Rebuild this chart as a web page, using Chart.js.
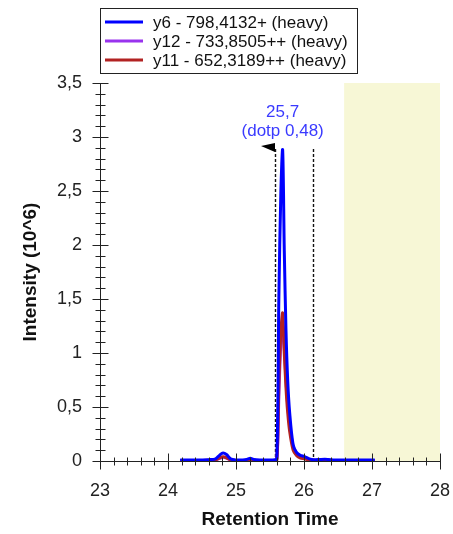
<!DOCTYPE html>
<html><head><meta charset="utf-8">
<script src="https://cdn.jsdelivr.net/npm/chart.js@4"></script>
<style>html,body{margin:0;padding:0;background:#fff}#wrap{width:453px;height:534px;position:relative}</style>
</head><body><div id="wrap"><canvas id="c" width="453" height="534"></canvas></div>
<script>
const times = [24.18,24.3,24.4,24.5,24.6,24.7,24.76,24.81,24.86,24.92,25.0,25.1,25.16,25.21,25.26,25.35,25.45,25.55,25.6,25.63,25.66,25.686,25.71,25.735,25.76,25.79,25.84,25.89,25.94,26.01,26.08,26.14,26.25,26.35,26.45,26.6,26.75,26.9,27.04];
const y6  = [0.01,0.01,0.01,0.01,0.012,0.02,0.055,0.075,0.06,0.02,0.01,0.01,0.015,0.025,0.015,0.01,0.01,0.01,0.02,1.5,2.5,2.88,1.95,1.21,0.75,0.44,0.15,0.08,0.055,0.04,0.02,0.012,0.015,0.015,0.01,0.01,0.01,0.01,0.01];
const y12 = [0.005,0.005,0.005,0.005,0.006,0.01,0.025,0.035,0.028,0.01,0.005,0.005,0.007,0.011,0.007,0.005,0.005,0.005,0.01,0.6,1.1,1.25,1.05,0.75,0.52,0.33,0.14,0.07,0.04,0.025,0.012,0.007,0.007,0.006,0.005,0.005,0.005,0.005,0.005];
const y11 = [0.005,0.005,0.005,0.005,0.006,0.01,0.03,0.04,0.03,0.01,0.005,0.005,0.008,0.012,0.008,0.005,0.005,0.005,0.01,0.7,1.2,1.37,1.0,0.68,0.45,0.27,0.1,0.05,0.03,0.02,0.01,0.006,0.006,0.006,0.005,0.005,0.005,0.005,0.005];
const seriesNames = ['y6 - 798,4132+ (heavy)','y12 - 733,8505++ (heavy)','y11 - 652,3189++ (heavy)'];
const seriesColors = ['#0000ff','#9933ee','#b22222'];
const xTicks = [23,24,25,26,27,28];
const yTicks = [0,0.5,1,1.5,2,2.5,3,3.5];
const peakTime = 25.686, peakHeight = 2.88;
const peakLabel = ['25,7','(dotp 0,48)'];
const integrationBounds = [25.57,26.13];
const boundTop = 2.89;
const shadedRange = [26.59,28];

const toXY = ys => times.map((t,i)=>({x:t,y:ys[i]}));
const seriesData = [y6,y12,y11];
const drawOrder = [0,2,1];

const extras = {
  id:'extras',
  beforeDatasetsDraw(chart){
    const {ctx, chartArea:a, scales:{x,y}} = chart;
    ctx.save();
    ctx.fillStyle = '#f7f7d6';
    const x0 = x.getPixelForValue(shadedRange[0]), x1 = x.getPixelForValue(shadedRange[1]);
    ctx.fillRect(x0, a.top, x1-x0, a.bottom-a.top);
    ctx.strokeStyle = '#111'; ctx.lineWidth = 1.4; ctx.setLineDash([3,2]);
    integrationBounds.forEach(b=>{
      const px = Math.round(x.getPixelForValue(b))+0.5;
      ctx.beginPath(); ctx.moveTo(px, y.getPixelForValue(boundTop)); ctx.lineTo(px, y.getPixelForValue(0)); ctx.stroke();
    });
    ctx.setLineDash([]);
    const bx = Math.round(x.getPixelForValue(integrationBounds[0])), by = y.getPixelForValue(boundTop);
    ctx.fillStyle = '#000';
    ctx.beginPath(); ctx.moveTo(bx-14, by-3); ctx.lineTo(bx, by-6); ctx.lineTo(bx, by+3); ctx.closePath(); ctx.fill();
    ctx.restore();
  },
  afterDraw(chart){
    const {ctx, chartArea:a, scales:{x,y}} = chart;
    ctx.save();
    ctx.strokeStyle = '#222'; ctx.lineWidth = 1;
    const y0 = Math.round(y.getPixelForValue(0))+0.5;
    const xl = Math.round(x.getPixelForValue(23))+0.5;
    for (let i=0;i<=25;i++){
      const v = 23 + i*0.2;
      const px = Math.round(x.getPixelForValue(v))+0.5;
      const L = (i%5===0)?8:4;
      ctx.beginPath(); ctx.moveTo(px, y0-L); ctx.lineTo(px, y0+L); ctx.stroke();
    }
    for (let i=0;i<=35;i++){
      const v = i*0.1;
      const py = Math.round(y.getPixelForValue(v))+0.5;
      const L = (i%5===0)?8:5;
      ctx.beginPath(); ctx.moveTo(xl-L, py); ctx.lineTo(xl+L, py); ctx.stroke();
    }
    const px = x.getPixelForValue(peakTime), py = y.getPixelForValue(peakHeight);
    ctx.fillStyle = '#3a3aff'; ctx.font = '17px "Liberation Sans", Arial, sans-serif';
    ctx.textAlign = 'center'; ctx.textBaseline = 'middle';
    ctx.fillText(peakLabel[0], px, py-38);
    ctx.fillText(peakLabel[1], px, py-19);
    ctx.fillStyle = '#fff'; ctx.fillRect(100,8,257,65);
    ctx.strokeStyle = '#222'; ctx.lineWidth = 1; ctx.strokeRect(100.5,8.5,257,65);
    ctx.font = '17px "Liberation Sans", Arial, sans-serif'; ctx.textAlign = 'left';
    seriesNames.forEach((n,i)=>{
      const ly = 22 + i*19;
      ctx.strokeStyle = seriesColors[i]; ctx.lineWidth = 3;
      ctx.beginPath(); ctx.moveTo(105, ly); ctx.lineTo(143, ly); ctx.stroke();
      ctx.fillStyle = '#111'; ctx.fillText(n, 153, ly+1);
    });
    ctx.restore();
  }
};

new Chart(document.getElementById('c'), {
  type:'line',
  data:{ datasets: seriesData.map((d,i)=>({
    label: seriesNames[i], data: toXY(d), borderColor: seriesColors[i], backgroundColor: seriesColors[i],
    borderWidth: 3, pointRadius: 0, tension: 0.3, fill:false, order: drawOrder[i]
  }))},
  options:{
    responsive:false, animation:false, devicePixelRatio:1,
    layout:{padding:{left:0, top:83, right:0, bottom:0}},
    plugins:{legend:{display:false}, tooltip:{enabled:false}},
    scales:{
      x:{ type:'linear', min:23, max:28,
        afterBuildTicks: s => { s.ticks = xTicks.map(v=>({value:v})); },
        afterFit: s => { s.height = 73; s.paddingRight = 13; s.paddingLeft = 0; },
        grid:{display:false, drawTicks:false},
        border:{display:true, color:'#222', width:1},
        ticks:{padding:19, color:'#222', font:{family:'"Liberation Sans", Arial, sans-serif', size:18}, maxRotation:0, callback: v=>String(v)},
        title:{display:true, text:'Retention Time', color:'#111', padding:{top:0,bottom:3}, font:{family:'"Liberation Sans", Arial, sans-serif', size:19, weight:'bold'}}
      },
      y:{ type:'linear', min:0, max:3.5,
        afterBuildTicks: s => { s.ticks = yTicks.map(v=>({value:v})); },
        afterFit: s => { s.width = 100; },
        grid:{display:false, drawTicks:false},
        border:{display:true, color:'#222', width:1},
        ticks:{padding:18, color:'#222', font:{family:'"Liberation Sans", Arial, sans-serif', size:18}, callback: v=>String(v).replace('.',',')},
        title:{display:true, text:'Intensity (10^6)', color:'#111', padding:{top:19,bottom:0}, font:{family:'"Liberation Sans", Arial, sans-serif', size:19, weight:'bold'}}
      }
    }
  },
  plugins:[extras]
});
</script></body></html>
